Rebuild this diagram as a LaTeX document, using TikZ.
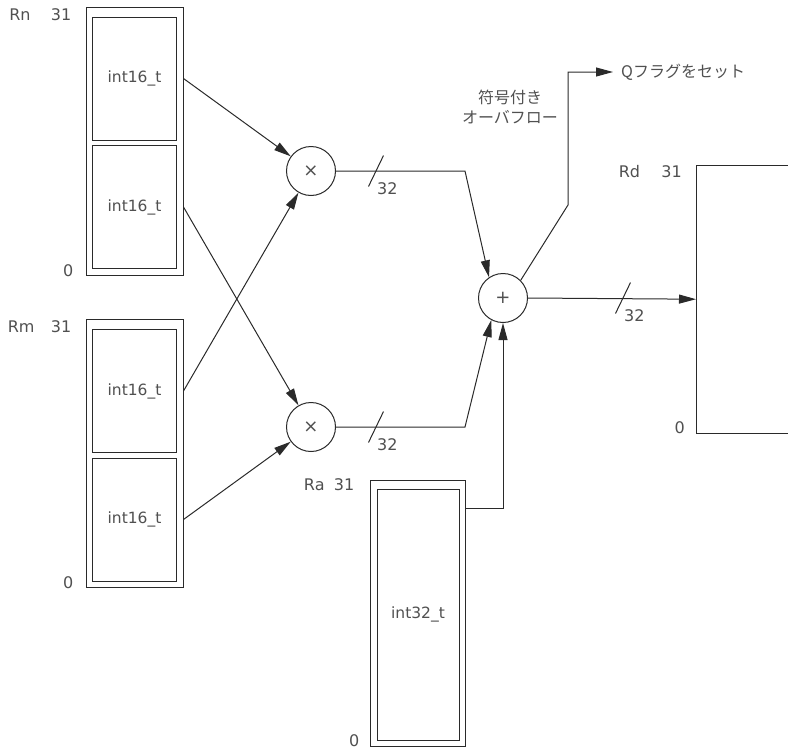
\documentclass[tikz,border=0pt]{standalone}
\usepackage{fontspec}
\setmainfont{DejaVu Sans}
\newfontfamily\jpfont{Noto Sans CJK JP}
\usetikzlibrary{arrows.meta, positioning, calc}
\definecolor{lnblack}{HTML}{2A2A2A}
\definecolor{txgray}{HTML}{505050}

\begin{document}
\begin{tikzpicture}[
  x=1pt, y=-1pt,
  >={Triangle[length=17pt, width=9pt]},
  line/.style={draw=lnblack, line width=1pt},
  arr/.style={->, line, lnblack},
  regbox/.style={
    line, minimum width=97pt, minimum height=268pt, inner sep=0pt
  },
  fieldbox/.style={
    line, minimum width=84pt, minimum height=123pt, inner sep=0pt,
    font=\fontsize{15.5}{18}\selectfont, text=txgray
  },
  opcirc/.style={
    line, circle, minimum size=49pt, inner sep=0pt,
    font=\fontsize{18}{20}\selectfont, text=txgray
  },
  lbl/.style={font=\fontsize{16}{18}\selectfont, text=txgray, inner sep=0pt},
  jp/.style={font=\jpfont\fontsize{16}{20}\selectfont, text=txgray},
  busslash/.pic={
    \draw[line] (-7.5,15.5) -- (7.5,-15.5);
    \node[lbl, anchor=west] at (1,18) {32};
  },
]

\useasboundingbox (0,0) rectangle (788,750);

% ---- Source registers Rn / Rm ----
\foreach \r/\y in {rn/141, rm/453.5} {
  \node[regbox] (\r) at (134.5,\y) {};
  \node[fieldbox] (\r-hi) at (134.5,\y-62.5) {int16\_t};
  \node[fieldbox] (\r-lo) at (134.5,\y+66) {int16\_t};
}

% Bit labels
\node[lbl, anchor=east] (rn31) at ($(rn.north west)+(-14,8)$) {31};
\node[lbl, left=20pt of rn31] {Rn};
\node[lbl, anchor=east] at ($(rn.south west)+(-12,-5)$) {0};
\node[lbl, anchor=east] (rm31) at ($(rm.north west)+(-14,8)$) {31};
\node[lbl, left=16pt of rm31] {Rm};
\node[lbl, anchor=east] at ($(rm.south west)+(-12,-5)$) {0};

% ---- Accumulate register Ra ----
\node[regbox, minimum width=95pt, minimum height=266pt] (ra) at (417.5,613) {};
\node[fieldbox, minimum width=82pt, minimum height=251pt] (ra-in)
  at (418,614.5) {int32\_t};
\node[lbl, anchor=east] (ra31) at ($(ra.north west)+(-15,5)$) {31};
\node[lbl, left=9pt of ra31] {Ra};
\node[lbl, anchor=east] at ($(ra.south west)+(-10,-6)$) {0};

% ---- Destination register Rd (open to the right) ----
\node[minimum width=92pt, minimum height=268pt, inner sep=0pt, anchor=north west]
  (rd) at (696,165) {};
\draw[line] (rd.north east) -- (rd.north west) -- (rd.south west) -- (rd.south east);
\node[lbl, anchor=east] (rd31) at ($(rd.north west)+(-14,7)$) {31};
\node[lbl, left=21pt of rd31] {Rd};
\node[lbl, anchor=east] at ($(rd.south west)+(-11,-6)$) {0};

% ---- Operators ----
\node[opcirc] (mulhi) at (311,171) {×};
\node[opcirc] (mullo) at (311,427) {×};
\node[opcirc] (add) at (503,298) {+};

% Crossing inputs to multipliers
\draw[arr] (rn-hi -| rn.east) -- (mulhi);
\draw[arr] (rn-lo -| rn.east) -- (mullo);
\draw[arr] (rm-hi -| rm.east) -- (mulhi);
\draw[arr] (rm-lo -| rm.east) -- (mullo);

% Products to adder
\coordinate (hijog) at (465,171);
\coordinate (lojog) at (465,427);
\draw[arr] (mulhi.east) -- (hijog) -- (add.124);
\draw[arr] (mullo.east) -- (lojog) -- (add.242);
\pic at ($(mulhi.east)+(40,0)$) {busslash};
\pic at ($(mullo.east)+(40,0)$) {busslash};

% Ra to adder
\draw[arr] (ra.north east) ++(0,29) -| (add.south);

% Sum to Rd
\draw[arr] (add.east) -- (rd.west);
\pic at ($(add.east)+(95,0)$) {busslash};

% ---- Saturation flag ----
\node[jp, align=center] (ovf) at (510,107) {符号付き\\オーバフロー};
\node[jp, anchor=west, inner xsep=8pt] (qflag) at (613,72) {Qフラグをセット};
\coordinate (qbend) at (568,205);
\draw[arr] (add.45) -- (qbend) |- (qflag.west);

\end{tikzpicture}
\end{document}
